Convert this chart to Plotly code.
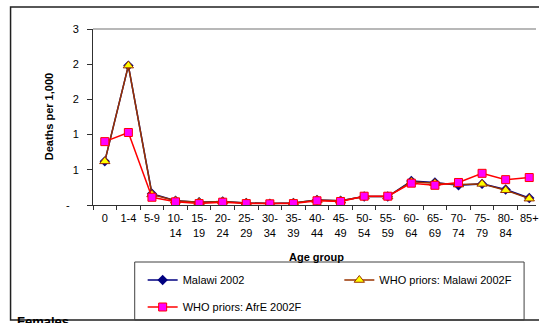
import plotly.graph_objects as go

# Age groups on the category axis
age_groups = ["0", "1-4", "5-9", "10-<br>14", "15-<br>19", "20-<br>24", "25-<br>29",
              "30-<br>34", "35-<br>39", "40-<br>44", "45-<br>49", "50-<br>54", "55-<br>59",
              "60-<br>64", "65-<br>69", "70-<br>74", "75-<br>79", "80-<br>84", "85+"]

# Deaths per 1,000 by age group
malawi_2002 = [0.62, 1.98, 0.16, 0.06, 0.04, 0.05, 0.03, 0.02, 0.03, 0.07, 0.06,
               0.12, 0.12, 0.34, 0.32, 0.28, 0.30, 0.22, 0.10]
who_malawi_2002f = [0.62, 1.98, 0.15, 0.06, 0.04, 0.05, 0.03, 0.02, 0.03, 0.07, 0.06,
                    0.12, 0.12, 0.33, 0.31, 0.29, 0.30, 0.21, 0.09]
who_afre_2002f = [0.90, 1.03, 0.11, 0.045, 0.02, 0.04, 0.02, 0.017, 0.02, 0.06, 0.05,
                  0.125, 0.125, 0.31, 0.28, 0.32, 0.45, 0.36, 0.39]

# Y tick values and their printed labels
y_ticks = [0, 0.5, 1.0, 1.5, 2.0, 2.5]
y_ticktext = ["-\u00a0\u00a0\u00a0", "1", "1", "2", "2", "3"]

W, H = 539, 323
L, R_EDGE, T, B = 93, 539, 29, 205
pw, ph = R_EDGE - L, B - T
cat_step = 23.74
x_hi = -0.5 + pw / cat_step


def px(x):
    return (x - L) / pw


def py(y):
    return (B - y) / ph


FONT = "Liberation Sans, Arial, sans-serif"

fig = go.Figure()
fig.add_trace(go.Scatter(
    x=age_groups, y=malawi_2002, mode="lines+markers", name="Malawi 2002",
    line=dict(color="#000080", width=1.5),
    marker=dict(symbol="diamond", size=8, color="#000080"),
    legend="legend", showlegend=True))
fig.add_trace(go.Scatter(
    x=age_groups, y=who_malawi_2002f, mode="lines+markers",
    name="WHO priors: Malawi 2002F",
    line=dict(color="#993300", width=1.5),
    marker=dict(symbol="triangle-up", size=9, color="#FFFF00",
                line=dict(color="#993300", width=1)),
    legend="legend2", showlegend=True))
fig.add_trace(go.Scatter(
    x=age_groups, y=who_afre_2002f, mode="lines+markers",
    name="WHO priors: AfrE 2002F",
    line=dict(color="#FF0000", width=1.5),
    marker=dict(symbol="square", size=8, color="#FF00FF",
                line=dict(color="#FF0000", width=1)),
    legend="legend3", showlegend=True))

leg_common = dict(bgcolor="rgba(0,0,0,0)", borderwidth=0, xanchor="left",
                  yanchor="middle", font=dict(family=FONT, size=11, color="black"),
                  visible=True)

fig.update_layout(
    width=W, height=H, showlegend=True,
    margin=dict(l=L, r=W - R_EDGE, t=T, b=H - B, pad=0),
    paper_bgcolor="white", plot_bgcolor="white",
    font=dict(family=FONT, size=11, color="black"),
    xaxis=dict(type="category", range=[-0.5, x_hi], showgrid=False,
               showline=True, linecolor="#303030", linewidth=1,
               ticks="outside", tickson="boundaries", ticklen=4,
               tickcolor="#303030", tickfont=dict(size=11), tickangle=0,
               ticklabelstandoff=3, zeroline=False),
    yaxis=dict(range=[0, 2.5], tickvals=y_ticks, ticktext=y_ticktext,
               showgrid=False, zeroline=False, showline=True,
               linecolor="#303030", linewidth=1, ticks="outside", ticklen=5,
               tickcolor="#303030", tickfont=dict(size=11),
               ticklabelstandoff=6),
    legend=dict(x=px(143), y=py(280), **leg_common),
    legend2=dict(x=px(341), y=py(280), **leg_common),
    legend3=dict(x=px(143), y=py(307), **leg_common),
    shapes=[
        # outer chart frame
        dict(type="rect", xref="paper", yref="paper",
             x0=px(10), x1=px(560), y0=py(320), y1=py(7),
             line=dict(color="#202020", width=1.5), layer="below"),
        # plot area top border
        dict(type="line", xref="paper", yref="paper",
             x0=0, x1=1, y0=1, y1=1, line=dict(color="#a0a0a0", width=1.5)),
        # legend frame
        dict(type="rect", xref="paper", yref="paper",
             x0=px(135), x1=px(527), y0=py(320), y1=py(262),
             line=dict(color="#404040", width=1)),
    ],
    annotations=[
        dict(text="<b>Deaths per 1,000</b>", xref="paper", yref="paper",
             x=px(49), y=0.5, textangle=-90, showarrow=False,
             xanchor="center", yanchor="middle", font=dict(size=11)),
        dict(text="<b>Age group</b>", xref="paper", yref="paper",
             x=px(318), y=py(257), showarrow=False,
             xanchor="center", yanchor="middle", font=dict(size=11)),
        dict(text="<b>Females</b>", xref="paper", yref="paper",
             x=px(14), y=py(312), showarrow=False,
             xanchor="left", yanchor="top", font=dict(size=13)),
    ],
)

fig.write_html("out.html")
